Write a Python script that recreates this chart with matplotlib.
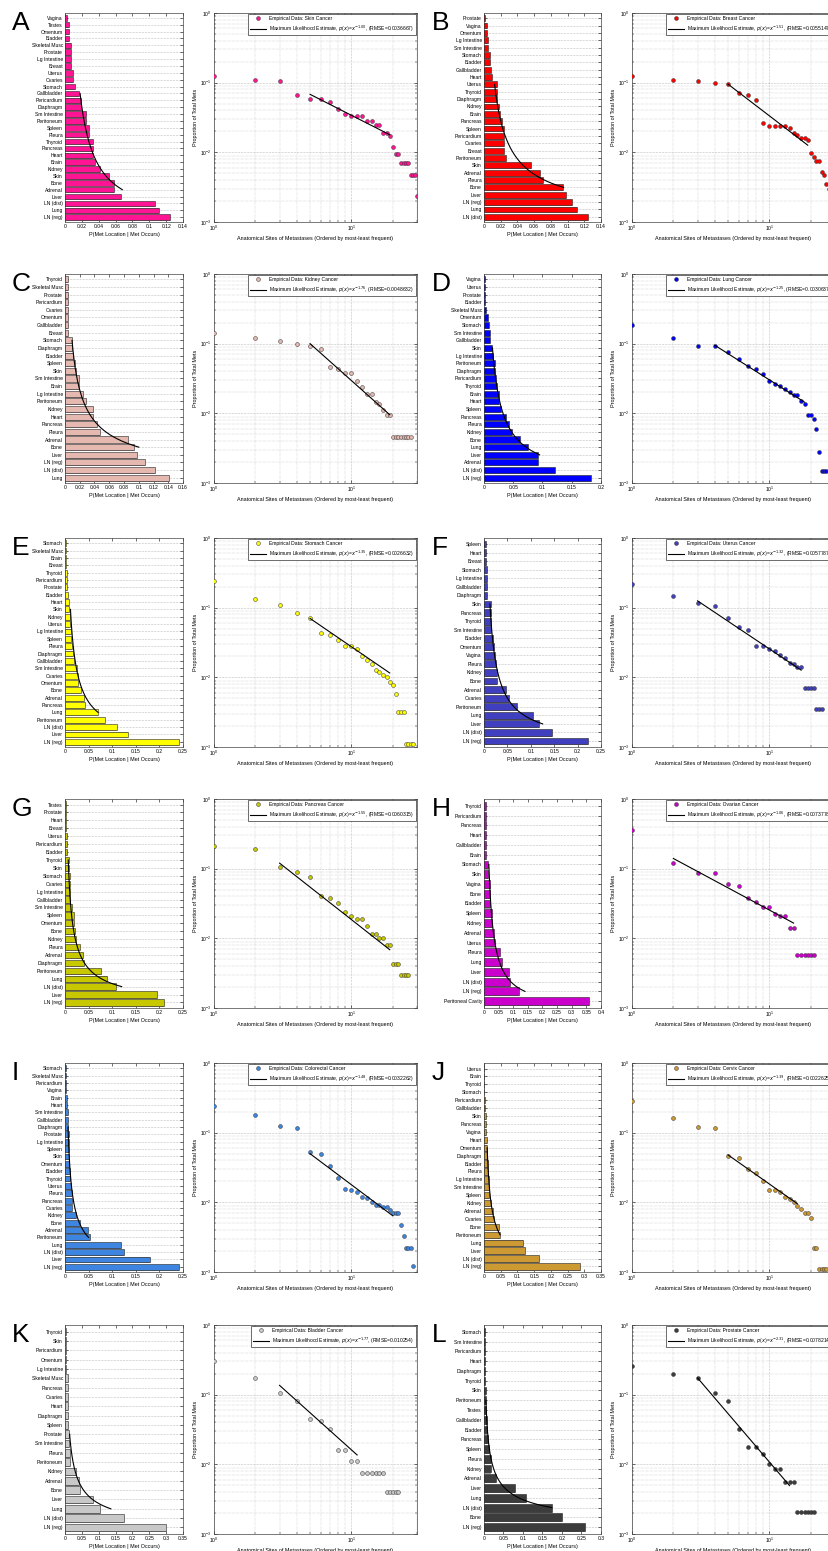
import numpy as np
import matplotlib.pyplot as plt
from matplotlib.lines import Line2D

plt.rcParams['font.family'] = ['Liberation Sans', 'DejaVu Sans']

# ---------------------------------------------------------------------------
# metastasis site frequencies, most frequent first (rank 1 = bottom bar)
# ---------------------------------------------------------------------------
sites_a = ['LN (reg)', 'Lung', 'LN (dist)', 'Liver', 'Adrenal', 'Bone', 'Skin', 'Kidney',
           'Brain', 'Heart', 'Pancreas', 'Thyroid', 'Pleura', 'Spleen', 'Peritoneum',
           'Sm Intestine', 'Diaphragm', 'Pericardium', 'Gallbladder', 'Stomach', 'Ovaries',
           'Uterus', 'Breast', 'Lg Intestine', 'Prostate', 'Skeletal Musc', 'Bladder',
           'Omentum', 'Testes', 'Vagina']
vals_a = [0.125, 0.111, 0.107, 0.066, 0.058, 0.058, 0.052, 0.042, 0.036, 0.033, 0.033,
          0.033, 0.028, 0.028, 0.025, 0.025, 0.019, 0.019, 0.017, 0.012, 0.0095, 0.0095,
          0.007, 0.007, 0.007, 0.007, 0.0048, 0.0048, 0.0048, 0.0024]

sites_b = ['LN (dist)', 'Lung', 'LN (reg)', 'Liver', 'Bone', 'Pleura', 'Adrenal', 'Skin',
           'Peritoneum', 'Breast', 'Ovaries', 'Pericardium', 'Spleen', 'Pancreas', 'Brain',
           'Kidney', 'Diaphragm', 'Thyroid', 'Uterus', 'Heart', 'Gallbladder', 'Bladder',
           'Stomach', 'Sm Intestine', 'Lg Intestine', 'Omentum', 'Vagina', 'Prostate']
vals_b = [0.125, 0.111, 0.105, 0.098, 0.095, 0.071, 0.067, 0.056, 0.026, 0.024, 0.024,
          0.024, 0.024, 0.022, 0.019, 0.018, 0.016, 0.016, 0.015, 0.0098, 0.0085, 0.0075,
          0.0075, 0.0052, 0.0048, 0.0035, 0.003, 0.0006]

sites_c = ['Lung', 'LN (dist)', 'LN (reg)', 'Liver', 'Bone', 'Adrenal', 'Pleura', 'Pancreas',
           'Heart', 'Kidney', 'Peritoneum', 'Lg Intestine', 'Brain', 'Sm Intestine', 'Skin',
           'Spleen', 'Bladder', 'Diaphragm', 'Stomach', 'Breast', 'Gallbladder', 'Omentum',
           'Ovaries', 'Pericardium', 'Prostate', 'Skeletal Musc', 'Thyroid']
vals_c = [0.141, 0.122, 0.108, 0.098, 0.094, 0.085, 0.047, 0.043, 0.038, 0.038, 0.029,
          0.024, 0.019, 0.019, 0.0145, 0.0136, 0.011, 0.0095, 0.0095, 0.0045, 0.0045, 0.0045,
          0.0045, 0.0045, 0.0045, 0.0045, 0.0045]

sites_d = ['LN (reg)', 'LN (dist)', 'Adrenal', 'Liver', 'Lung', 'Bone', 'Kidney', 'Pleura',
           'Pancreas', 'Spleen', 'Heart', 'Brain', 'Thyroid', 'Pericardium', 'Diaphragm',
           'Peritoneum', 'Lg Intestine', 'Skin', 'Gallbladder', 'Sm Intestine', 'Stomach',
           'Omentum', 'Skeletal Musc', 'Bladder', 'Prostate', 'Uterus', 'Vagina']
vals_d = [0.183, 0.121, 0.093, 0.092, 0.076, 0.061, 0.048, 0.043, 0.037, 0.029, 0.026,
          0.025, 0.0225, 0.020, 0.0185, 0.0185, 0.015, 0.0135, 0.0096, 0.0096, 0.0084,
          0.006, 0.0028, 0.0015, 0.0015, 0.0015, 0.0015]

sites_e = ['LN (reg)', 'Liver', 'LN (dist)', 'Peritoneum', 'Lung', 'Pancreas', 'Adrenal',
           'Bone', 'Omentum', 'Ovaries', 'Sm Intestine', 'Gallbladder', 'Diaphragm', 'Pleura',
           'Spleen', 'Lg Intestine', 'Uterus', 'Kidney', 'Skin', 'Heart', 'Bladder',
           'Prostate', 'Pericardium', 'Thyroid', 'Breast', 'Brain', 'Skeletal Musc', 'Stomach']
vals_e = [0.242, 0.134, 0.110, 0.085, 0.070, 0.043, 0.041, 0.034, 0.0285, 0.0285, 0.0256,
          0.020, 0.018, 0.0157, 0.0128, 0.012, 0.0107, 0.010, 0.0085, 0.0078, 0.0057,
          0.0032, 0.0032, 0.0032, 0.0011, 0.0011, 0.0011, 0.0011]

sites_f = ['LN (reg)', 'LN (dist)', 'Liver', 'Lung', 'Peritoneum', 'Ovaries', 'Adrenal',
           'Bone', 'Kidney', 'Pleura', 'Vagina', 'Omentum', 'Bladder', 'Sm Intestine',
           'Thyroid', 'Pancreas', 'Skin', 'Diaphragm', 'Gallbladder', 'Lg Intestine',
           'Stomach', 'Breast', 'Heart', 'Spleen']
vals_f = [0.222, 0.145, 0.118, 0.104, 0.0705, 0.0527, 0.048, 0.028, 0.028, 0.0256, 0.0235,
          0.021, 0.019, 0.016, 0.0157, 0.014, 0.014, 0.007, 0.007, 0.007, 0.007, 0.0035,
          0.0035, 0.0035]

sites_g = ['LN (reg)', 'Liver', 'LN (dist)', 'Lung', 'Peritoneum', 'Diaphragm', 'Adrenal',
           'Pleura', 'Kidney', 'Bone', 'Omentum', 'Spleen', 'Sm Intestine', 'Gallbladder',
           'Lg Intestine', 'Ovaries', 'Stomach', 'Skin', 'Thyroid', 'Bladder', 'Pericardium',
           'Uterus', 'Breast', 'Heart', 'Prostate', 'Testes']
vals_g = [0.21, 0.194, 0.107, 0.089, 0.076, 0.0406, 0.038, 0.032, 0.0235, 0.021, 0.019,
          0.019, 0.015, 0.0114, 0.0114, 0.010, 0.010, 0.008, 0.008, 0.0043, 0.0043, 0.0043,
          0.003, 0.003, 0.003, 0.003]

sites_h = ['Peritoneal Cavity', 'LN (reg)', 'LN (dist)', 'Liver', 'Lung', 'Pleura', 'Uterus',
           'Adrenal', 'Kidney', 'Spleen', 'Bladder', 'Bone', 'Vagina', 'Skin', 'Stomach',
           'Brain', 'Gallbladder', 'Heart', 'Pancreas', 'Pericardium', 'Thyroid']
vals_h = [0.36, 0.121, 0.088, 0.0855, 0.061, 0.0555, 0.038, 0.0335, 0.028, 0.028, 0.022,
          0.021, 0.021, 0.014, 0.014, 0.0058, 0.0058, 0.0058, 0.0058, 0.0058, 0.0058]

sites_i = ['LN (reg)', 'Liver', 'LN (dist)', 'Lung', 'Peritoneum', 'Adrenal', 'Bone', 'Kidney',
           'Ovaries', 'Pancreas', 'Pleura', 'Uterus', 'Thyroid', 'Bladder', 'Omentum', 'Skin',
           'Spleen', 'Lg Intestine', 'Prostate', 'Diaphragm', 'Gallbladder', 'Sm Intestine',
           'Heart', 'Brain', 'Vagina', 'Pericardium', 'Skeletal Musc', 'Stomach']
vals_i = [0.242, 0.18, 0.126, 0.118, 0.0526, 0.049, 0.0327, 0.0227, 0.0156, 0.015, 0.0142,
          0.012, 0.0114, 0.010, 0.0092, 0.0092, 0.0085, 0.0085, 0.0078, 0.007, 0.007, 0.007,
          0.0048, 0.0033, 0.0022, 0.0022, 0.0022, 0.0012]

sites_j = ['LN (reg)', 'LN (dist)', 'Liver', 'Lung', 'Peritoneum', 'Bone', 'Ovaries', 'Adrenal',
           'Kidney', 'Spleen', 'Sm Intestine', 'Lg Intestine', 'Pleura', 'Bladder',
           'Diaphragm', 'Omentum', 'Heart', 'Vagina', 'Pancreas', 'Skin', 'Gallbladder',
           'Pericardium', 'Stomach', 'Thyroid', 'Brain', 'Uterus']
vals_j = [0.287, 0.1645, 0.1216, 0.1176, 0.047, 0.044, 0.030, 0.026, 0.020, 0.015, 0.015,
          0.014, 0.012, 0.011, 0.010, 0.009, 0.008, 0.007, 0.007, 0.006, 0.0022, 0.0022,
          0.0011, 0.0011, 0.0011, 0.0011]

sites_k = ['LN (reg)', 'LN (dist)', 'Lung', 'Liver', 'Bone', 'Adrenal', 'Kidney', 'Peritoneum',
           'Pleura', 'Sm Intestine', 'Prostate', 'Spleen', 'Diaphragm', 'Heart', 'Ovaries',
           'Pancreas', 'Skeletal Musc', 'Lg Intestine', 'Omentum', 'Pericardium', 'Skin',
           'Thyroid']
vals_k = [0.30, 0.175, 0.105, 0.082, 0.045, 0.042, 0.032, 0.016, 0.016, 0.011, 0.011, 0.0075,
          0.0075, 0.0075, 0.0075, 0.0075, 0.0075, 0.004, 0.004, 0.004, 0.004, 0.004]

sites_l = ['LN (reg)', 'Bone', 'LN (dist)', 'Lung', 'Liver', 'Adrenal', 'Kidney', 'Pleura',
           'Spleen', 'Pancreas', 'Bladder', 'Gallbladder', 'Testes', 'Peritoneum', 'Skin',
           'Thyroid', 'Diaphragm', 'Heart', 'Pericardium', 'Sm Intestine', 'Stomach']
vals_l = [0.26, 0.2, 0.175, 0.107, 0.08, 0.032, 0.018, 0.018, 0.014, 0.010, 0.0085, 0.0085,
          0.0055, 0.0055, 0.0055, 0.0021, 0.0021, 0.0021, 0.0021, 0.0021, 0.0021]

# power-law fits: exponent, fitted rank range, amplitude, rmse
fit_alpha = [1.00, 1.51, 1.76, 1.25, 1.35, 1.32, 1.55, 1.06, 1.48, 1.39, 1.77, 2.31]
fit_lo = [5, 5, 5, 4, 5, 3, 3, 2, 5, 5, 3, 3]
fit_hi = [19, 19, 19, 18, 19, 17, 19, 15, 20, 16, 11, 14]
fit_amp = [0.34, 1.08, 1.70, 0.537, 0.615, 0.534, 0.659, 0.292, 0.54, 0.449, 0.95, 2.2]
fit_rmse = ['0.0036667', '0.0055147', '0.0048632', '0.0030637', '0.0026632', '0.0057787',
            '0.0060315', '0.0073778', '0.0032262', '0.0022625', '0.010254', '0.0078214']

letters = list('ABCDEFGHIJKL')
cancers = ['Skin', 'Breast', 'Kidney', 'Lung', 'Stomach', 'Uterus', 'Pancreas', 'Ovarian',
           'Colorectal', 'Cervix', 'Bladder', 'Prostate']
colors = ['#ff1493', '#ff0000', '#e6b9b0', '#0000ff', '#ffff00', '#3f3fbf', '#c8c800',
          '#cc00cc', '#3d85e0', '#cc9933', '#c8c8c8', '#3c3c3c']
bar_xmax = [0.14, 0.14, 0.16, 0.2, 0.25, 0.25, 0.25, 0.4, 0.25, 0.35, 0.35, 0.3]
bar_xstep = [0.02, 0.02, 0.02, 0.05, 0.05, 0.05, 0.05, 0.05, 0.05, 0.05, 0.05, 0.05]
all_sites = [sites_a, sites_b, sites_c, sites_d, sites_e, sites_f, sites_g, sites_h,
             sites_i, sites_j, sites_k, sites_l]
all_vals = [vals_a, vals_b, vals_c, vals_d, vals_e, vals_f, vals_g, vals_h, vals_i,
            vals_j, vals_k, vals_l]

W, H = 829, 1551
fig = plt.figure(figsize=(W / 100, H / 100), dpi=100)

row_top = [13, 274, 538, 799, 1063, 1325]
ax_h = 209
bar_left = [65, 484]
bar_w = [118, 117]
sc_left = [214, 632]
sc_w = 203
TS = 3.6  # tick label size


def frac(x, y, w, h):
    return [x / W, 1 - (y + h) / H, w / W, h / H]


def style(ax):
    ax.tick_params(direction='in', top=True, right=True, length=2, width=0.4,
                   labelsize=TS, pad=1.5)
    ax.tick_params(which='minor', direction='in', top=True, right=True, length=1.2,
                   width=0.3)
    for s in ax.spines.values():
        s.set_linewidth(0.5)
        s.set_color('#444444')


for k in range(12):
    row, col = divmod(k, 2)
    sites, vals = all_sites[k], all_vals[k]
    n = len(vals)
    rank = np.arange(1, n + 1)
    a, lo, hi, amp = fit_alpha[k], fit_lo[k], fit_hi[k], fit_amp[k]
    rr = np.linspace(lo, hi, 200)
    fit = amp * rr ** (-a)

    # ---- horizontal bar chart ----
    axb = fig.add_axes(frac(bar_left[col], row_top[row], bar_w[col], ax_h))
    axb.barh(rank - 0.12, vals, height=0.8, color='#9a9a9a', zorder=2)
    axb.barh(rank, vals, height=0.8, color=colors[k], edgecolor='#222222',
             linewidth=0.4, zorder=3)
    axb.plot(fit, rr, color='black', lw=0.8, zorder=4)
    axb.set_yticks(rank)
    axb.set_yticklabels(sites, fontsize=TS)
    axb.set_ylim(0.3, n + 0.7)
    axb.set_xlim(0, bar_xmax[k])
    ticks = np.arange(0, bar_xmax[k] + 1e-9, bar_xstep[k])
    axb.set_xticks(ticks)
    axb.set_xticklabels(['0'] + ['%g' % t for t in ticks[1:]])
    axb.grid(axis='y', linestyle=':', color='#888888', linewidth=0.4, zorder=0)
    axb.set_axisbelow(True)
    axb.set_xlabel('P(Met Location | Met Occurs)', fontsize=TS + 0.3, labelpad=2)
    style(axb)

    # ---- rank / frequency on log-log axes ----
    axs = fig.add_axes(frac(sc_left[col], row_top[row], sc_w, ax_h))
    axs.set_xscale('log')
    axs.set_yscale('log')
    axs.plot(rank, vals, 'o', ms=2.8, mfc=colors[k], mec='#333333', mew=0.35,
             zorder=3, clip_on=True)
    axs.plot(rr, fit, color='black', lw=0.8, zorder=4)
    axs.set_xlim(1, 30)
    axs.set_ylim(1e-3, 1)
    axs.grid(which='major', linestyle=':', color='#888888', linewidth=0.4)
    axs.grid(which='minor', linestyle=':', color='#aaaaaa', linewidth=0.35)
    axs.set_xlabel('Anatomical Sites of Metastases (Ordered by most-least frequent)',
                   fontsize=TS + 0.3, labelpad=2)
    axs.set_ylabel('Proportion of Total Mets', fontsize=TS + 0.3, labelpad=2)
    style(axs)
    handles = [
        Line2D([], [], marker='o', ls='none', ms=2.8, mfc=colors[k], mec='#333333',
               mew=0.35),
        Line2D([], [], color='black', lw=0.8),
    ]
    labels = ['Empirical Data: %s Cancer' % cancers[k],
              'Maximum Likelihood Estimate, $p(x)$=$x^{-%.2f}$, (RMSE=%s)'
              % (a, fit_rmse[k])]
    leg = axs.legend(handles, labels, loc='upper right', fontsize=TS,
                     fancybox=False, framealpha=1, edgecolor='#333333',
                     borderaxespad=0.25, handlelength=3.2, borderpad=0.35,
                     labelspacing=0.45, handletextpad=0.6)
    leg.get_frame().set_linewidth(0.5)

    # panel letter
    lx = 12 if col == 0 else 432
    fig.text(lx / W, 1 - (row_top[row] - 2) / H, letters[k], fontsize=19,
             va='top', ha='left')

fig.savefig('out.png', dpi=100)
